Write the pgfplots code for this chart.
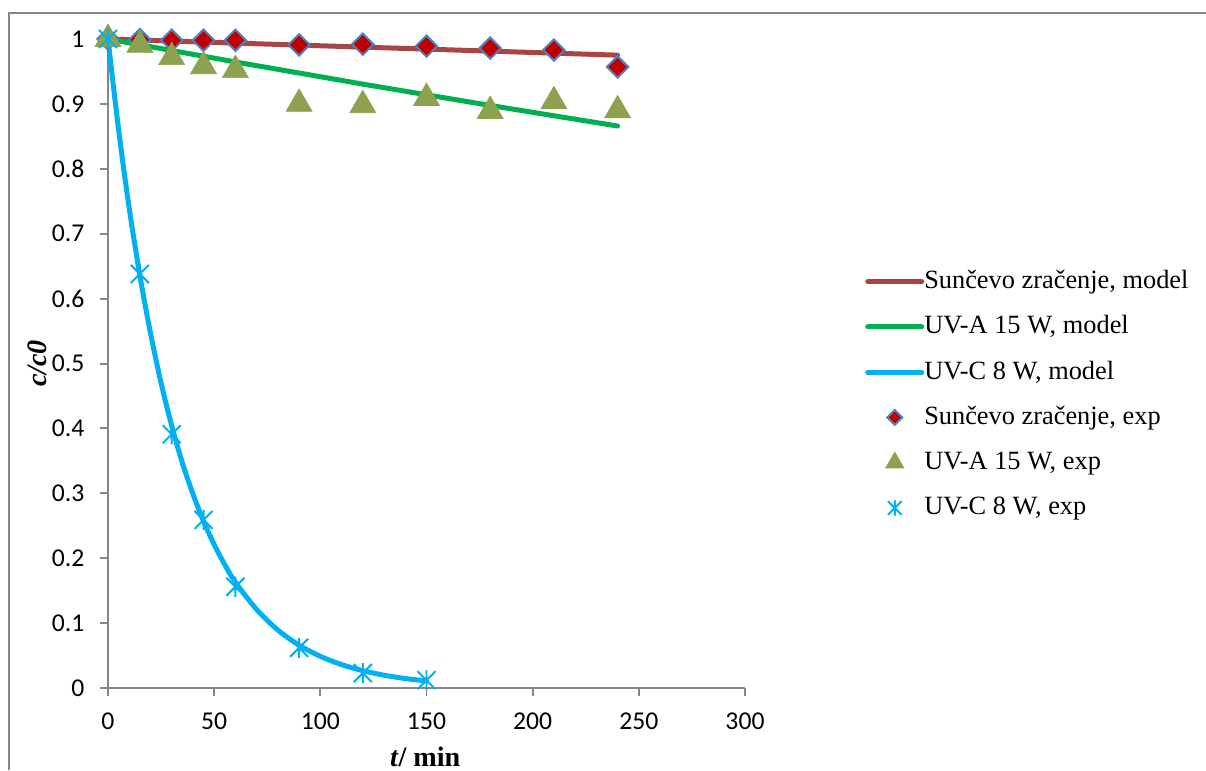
\documentclass[border=0pt]{standalone}
\usepackage{pgfplots}
\pgfplotsset{compat=1.18}
\usepackage{fontspec}
\setmainfont{Liberation Serif}
\newfontfamily\calib{Carlito}
\definecolor{axisgray}{RGB}{134,134,134}
\definecolor{sunline}{RGB}{168,68,66}
\definecolor{uvaline}{RGB}{0,176,80}
\definecolor{uvcline}{RGB}{0,176,240}
\definecolor{sunfill}{RGB}{192,0,0}
\definecolor{sunedge}{RGB}{79,129,189}
\definecolor{uvamark}{RGB}{140,162,78}

% Excel-style asterisk: vertical bar plus an X
\pgfdeclareplotmark{xast}{%
    \pgfpathmoveto{\pgfqpoint{0pt}{\pgfplotmarksize}}%
    \pgfpathlineto{\pgfqpoint{0pt}{-\pgfplotmarksize}}%
    \pgfpathmoveto{\pgfqpoint{-0.9\pgfplotmarksize}{0.9\pgfplotmarksize}}%
    \pgfpathlineto{\pgfqpoint{0.9\pgfplotmarksize}{-0.9\pgfplotmarksize}}%
    \pgfpathmoveto{\pgfqpoint{-0.9\pgfplotmarksize}{-0.9\pgfplotmarksize}}%
    \pgfpathlineto{\pgfqpoint{0.9\pgfplotmarksize}{0.9\pgfplotmarksize}}%
    \pgfusepathqstroke}

\pgfplotsset{
    linelegend/.style={legend image code/.code={\draw[##1] (0cm,0cm) -- (1.08cm,0cm);}},
    marklegend/.style={legend image code/.code={\draw[##1, mark size=#1] plot coordinates {(0.54cm,0cm)};}},
}

\begin{document}
\begin{tikzpicture}
\useasboundingbox (0,0) rectangle (24.12cm,15.4cm);
\draw[axisgray, line width=0.04cm] (0.18cm,0) -- (0.18cm,15.14cm) -- (24.3cm,15.14cm);
\begin{axis}[
    at={(2.16cm,1.64cm)}, anchor=south west,
    scale only axis,
    width=12.74cm, height=12.98cm,
    xmin=0, xmax=300, ymin=0, ymax=1,
    axis x line=bottom, axis y line=left,
    axis line style={-, axisgray, line width=0.04cm},
    tick style={axisgray, line width=0.04cm},
    tick align=outside, major tick length=0.15cm,
    xtick={0,50,100,150,200,250,300},
    ytick={0,0.1,0.2,0.3,0.4,0.5,0.6,0.7,0.8,0.9,1},
    tick label style={font=\calib\fontsize{14.6}{16}\selectfont, text=black},
    xticklabel style={yshift=-0.22cm},
    yticklabel style={xshift=-0.2cm},
    /pgf/number format/assume math mode=true,
    /pgf/number format/fixed,
    xlabel={\textbf{\textit{t}/ min}},
    ylabel={\textbf{\textit{c/c0}}},
    label style={font=\fontsize{16}{18}\selectfont},
    xlabel style={at={(axis description cs:0.498,-0.106)}, anchor=center},
    ylabel style={at={(axis description cs:-0.111,0.5)}, anchor=center, rotate=0},
    clip=false,
    legend cell align=left,
    legend style={
        at={(axis description cs:1.18,0.652)}, anchor=north west,
        draw=none, fill=none,
        font=\fontsize{15}{18}\selectfont,
        row sep=0.385cm,
        nodes={inner sep=0pt, text height=0.4cm, text depth=0.12cm},
        /tikz/every even column/.append style={column sep=0.1cm},
    },
]
% models
\addplot[sunline, line width=0.1cm, line cap=round, linelegend] coordinates {
    (0,1) (60,0.9937) (120,0.9875) (180,0.9813) (240,0.9751)
};
\addlegendentry{Sunčevo zračenje, model}
\addplot[uvaline, line width=0.1cm, line cap=round, linelegend] coordinates {
    (0,1) (60,0.9646) (120,0.9305) (180,0.8976) (240,0.8659)
};
\addlegendentry{UV-A 15 W, model}
\addplot[uvcline, line width=0.1cm, line cap=round, smooth, linelegend] coordinates {
    (0,1) (5,0.860) (10,0.739) (15,0.636) (20,0.547) (25,0.470) (30,0.404)
    (35,0.347) (40,0.299) (45,0.257) (50,0.221) (55,0.190) (60,0.163)
    (70,0.121) (80,0.0893) (90,0.0660) (100,0.0488) (110,0.0361)
    (120,0.0267) (130,0.0197) (140,0.0146) (150,0.0108)
};
\addlegendentry{UV-C 8 W, model}
% experiments
\addplot[only marks, mark=square*, mark size=4.3pt,
    mark options={rotate=45, fill=sunfill, draw=sunedge, line width=0.04cm},
    marklegend=3pt] coordinates {
    (0,1.0) (15,0.999) (30,0.998) (45,0.998) (60,0.998) (90,0.991)
    (120,0.992) (150,0.989) (180,0.986) (210,0.983) (240,0.957)
};
\addlegendentry{Sunčevo zračenje, exp}
\addplot[only marks, mark=triangle*, mark size=8.5pt,
    mark options={fill=uvamark, draw=uvamark},
    marklegend=6pt] coordinates {
    (0,1.0) (15,0.991) (30,0.972) (45,0.958) (60,0.952) (90,0.900)
    (120,0.898) (150,0.909) (180,0.889) (210,0.904) (240,0.890)
};
\addlegendentry{UV-A 15 W, exp}
\addplot[only marks, mark=xast, mark size=5.7pt,
    mark options={draw=uvcline, line width=0.04cm},
    marklegend=4.3pt] coordinates {
    (0,1.0) (15,0.638) (30,0.391) (45,0.259) (60,0.156) (90,0.062)
    (120,0.023) (150,0.012)
};
\addlegendentry{UV-C 8 W, exp}
\end{axis}
\end{tikzpicture}
\end{document}
